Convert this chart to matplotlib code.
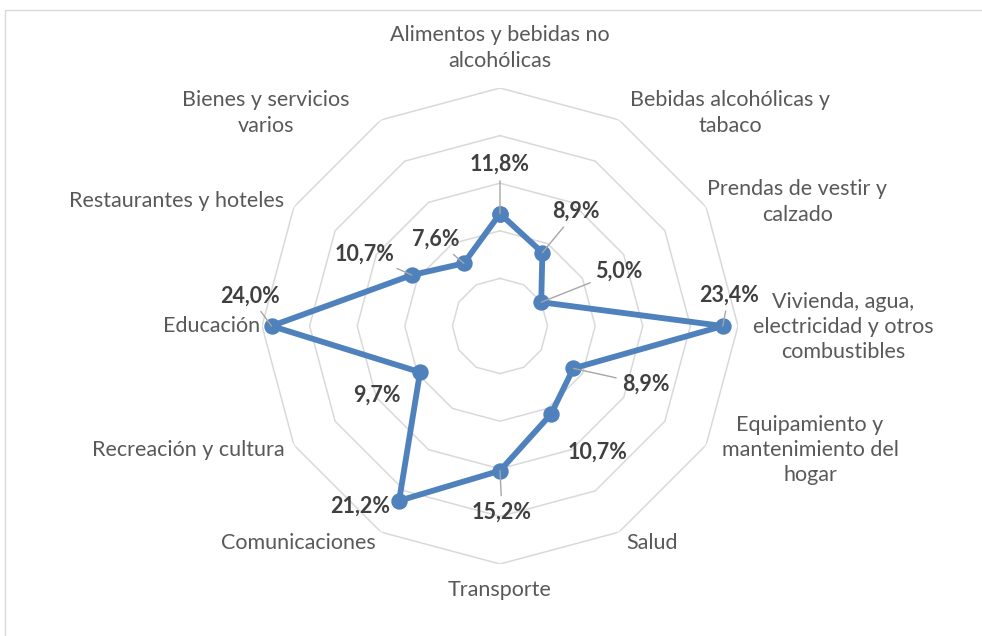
import matplotlib.pyplot as plt
import numpy as np
from matplotlib.patches import Rectangle

# Data
categorias = ["Alimentos y bebidas no\nalcohólicas",
              "Bebidas alcohólicas y\ntabaco",
              "Prendas de vestir y\ncalzado",
              "Vivienda, agua,\nelectricidad y otros\ncombustibles",
              "Equipamiento y\nmantenimiento del\nhogar",
              "Salud",
              "Transporte",
              "Comunicaciones",
              "Recreación y cultura",
              "Educación",
              "Restaurantes y hoteles",
              "Bienes y servicios\nvarios"]
valores = [11.8, 8.9, 5.0, 23.4, 8.9, 10.7, 15.2, 21.2, 9.7, 24.0, 10.7, 7.6]
etiquetas = ["11,8%", "8,9%", "5,0%", "23,4%", "8,9%", "10,7%",
             "15,2%", "21,2%", "9,7%", "24,0%", "10,7%", "7,6%"]
anillos = [5, 10, 15, 20, 25]

# label offsets in pixels (style only)
cat_off = [(0, 40), (111, 7), (91, 5), (105, -1), (104, -5), (33, -11),
           (0, -26), (-83, -11), (-106, -5), (-50, 0), (-117, 6), (-115, 7)]
dat_off = [(0, 49), (34, 41), (78, 31), (6, 31), (72, -16), (47, -38),
           (2, -41), (-39, -5), (-43, -23), (-22, 30), (-47, 21), (-28, 24)]
leader = [True, True, True, True, True, False, True, False, False, True, True, True]

plt.rcParams['font.family'] = ['Lato', 'DejaVu Sans']

W, H = 982, 636
fig = plt.figure(figsize=(W / 100, H / 100), dpi=100)

# chart area border
fig.patches.append(Rectangle((5 / W, -0.1), 1.2, 1.1 - 10 / H, transform=fig.transFigure,
                             fill=False, edgecolor='#d9d9d9', lw=1))

cx, cy, R = 500, 326, 238
ax = fig.add_axes([(cx - R) / W, (H - cy - R) / H, 2 * R / W, 2 * R / H], projection='polar')
ax.set_theta_zero_location('N')
ax.set_theta_direction(-1)
ax.set_ylim(0, 25)
ax.grid(False)
ax.spines['polar'].set_visible(False)
ax.set_xticks([])
ax.set_yticks([])
ax.patch.set_alpha(0)

n = len(valores)
ang = np.arange(n) * 2 * np.pi / n
ang_c = np.append(ang, ang[0])

for r in anillos:
    ax.plot(ang_c, [r] * (n + 1), color='#d9d9d9', lw=1.1, zorder=1)

ax.plot(ang_c, valores + valores[:1], color='#4f81bd', lw=4.2, marker='o',
        markersize=10.8, zorder=3, solid_joinstyle='round')

for i in range(n):
    ax.annotate(categorias[i], xy=(ang[i], 25), xytext=cat_off[i], textcoords='offset pixels',
                ha='center', va='center', fontsize=15.5, color='#595959', linespacing=1.33,
                annotation_clip=False)
    ap = dict(arrowstyle='-', color='#a6a6a6', lw=1, shrinkA=2, shrinkB=0) if leader[i] else None
    ax.annotate(etiquetas[i], xy=(ang[i], valores[i]), xytext=dat_off[i], textcoords='offset pixels',
                ha='center', va='center', fontsize=15.5, fontweight='bold', color='#404040',
                arrowprops=ap, annotation_clip=False, zorder=4)

fig.savefig('out.png', dpi=100)
